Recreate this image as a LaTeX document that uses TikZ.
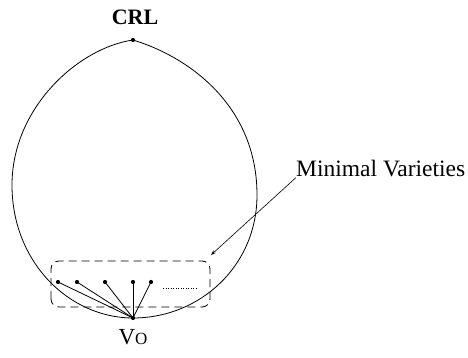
\documentclass[tikz,border=0pt]{standalone}
\usepackage{fontspec}
\setmainfont{Liberation Serif}
\usepackage{tikz}
\usetikzlibrary{arrows.meta,positioning}
\tikzset{
  vdot/.style={circle,fill=black,inner sep=0pt,minimum size=4.2pt},
  egg/.style={draw=black,line width=0.8pt},
  minbox/.style={draw=black,line width=0.8pt,dash pattern=on 8pt off 5pt,
                 rounded corners=8pt},
  edge/.style={draw=black,line width=0.8pt},
  callout/.style={-{Stealth[length=5pt,width=3.5pt]},line width=0.6pt,draw=black},
  bigtext/.style={font=\fontsize{23.5}{27}\selectfont,inner sep=0pt}
}

\begin{document}
\begin{tikzpicture}[x=1pt,y=1pt]
    \path[use as bounding box] (0,0) rectangle (468,358);
    % outer region
    \node[vdot] (crl) at (133,318) {};
    \node[vdot] (vo) at (133,40) {};
    \draw[egg] (crl.center) .. controls (78,310) and (12,250) .. (12,173)
      .. controls (12,95) and (70,40) .. (vo.center)
      .. controls (200,40) and (257,92) .. (257,163)
      .. controls (257,250) and (192,300) .. (crl.center);
    \node[bigtext,font=\fontsize{22}{26}\selectfont\bfseries,anchor=base]
      (crllabel) at (135,333) {CRL};
    \node[bigtext,font=\fontsize{23}{26}\selectfont,anchor=base] (volabel)
      at (133,13) {V{\fontsize{17}{19}\selectfont O}};

    % minimal varieties
    \draw[minbox] (51,51) rectangle (210,97);
    \node[vdot] (m1) at (58,76) {};
    \node[vdot] (m2) at (77,76) {};
    \node[vdot] (m3) at (105,76) {};
    \node[vdot] (m4) at (133,76) {};
    \node[vdot] (m5) at (151,76) {};
    \foreach \m in {m1,m2,m3,m4,m5}
      \draw[edge] (\m.center) -- (vo.center);
    \coordinate (dotsl) at (163,70);
    \coordinate (dotsr) at (198,70);
    \draw[line width=0.8pt,dash pattern=on 1pt off 1.5pt] (dotsl) -- (dotsr);

    \node[bigtext,anchor=base west] (minlabel) at (296,181) {Minimal Varieties};
    \coordinate (boxcorner) at (211,103);
    \draw[callout] (minlabel.south west) -- (boxcorner);
  \end{tikzpicture}
\end{document}
